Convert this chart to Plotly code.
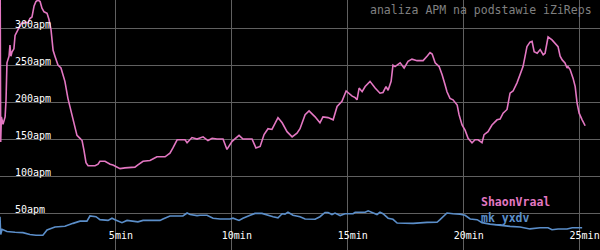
import plotly.graph_objects as go

# ---- data ----
series_names = ["ShaonVraal", "mk_yxdv"]
series_colors = ["#e377c2", "#5b8ec9"]

shaon_t = [0.00, 0.03, 0.06, 0.13, 0.22, 0.26, 0.30, 0.39, 0.43, 0.47, 0.52, 0.60, 0.65, 0.73, 0.82, 0.91,
           1.08, 1.21, 1.29, 1.38, 1.47, 1.55, 1.64, 1.73, 1.81, 1.90, 2.03, 2.11, 2.20, 2.29, 2.37,
           2.50, 2.63, 2.72, 2.80, 2.93, 3.02, 3.15, 3.24, 3.32, 3.45, 3.54, 3.62, 3.71, 3.80, 4.10,
           4.23, 4.31, 4.53, 4.75, 4.87, 5.18, 5.39, 5.61, 5.82, 5.95, 6.17, 6.47, 6.60, 6.77, 7.12,
           7.33, 7.46, 7.64, 7.98, 8.07, 8.28, 8.50, 8.76, 8.97, 9.15, 9.36, 9.62, 9.79, 10.01, 10.31,
           10.48, 10.87, 11.04, 11.22, 11.39, 11.56, 11.73, 11.86, 11.99, 12.17, 12.38, 12.60, 12.81,
           12.94, 13.16, 13.33, 13.59, 13.80, 13.93, 14.15, 14.37, 14.54, 14.75, 14.93, 15.19, 15.32,
           15.40, 15.49, 15.62, 15.75, 15.96, 16.18, 16.39, 16.52, 16.65, 16.74, 16.87, 16.95, 17.04,
           17.26, 17.43, 17.60, 17.77, 17.99, 18.25, 18.42, 18.55, 18.64, 18.77, 18.94, 19.07, 19.20,
           19.28, 19.41, 19.54, 19.72, 19.80, 19.93, 20.06, 20.19, 20.36, 20.49, 20.62, 20.79, 20.88,
           21.05, 21.22, 21.44, 21.57, 21.70, 21.87, 22.00, 22.13, 22.30, 22.43, 22.56, 22.65, 22.73,
           22.86, 22.95, 23.04, 23.17, 23.30, 23.43, 23.51, 23.60, 23.64, 23.81, 23.94, 24.07, 24.16,
           24.25, 24.37, 24.46, 24.50, 24.59, 24.72, 24.81, 24.89, 24.98, 25.11, 25.24]
shaon_apm = [420, 146, 180, 170, 180, 203, 253, 262, 277, 262, 268, 272, 290, 295, 300, 306,
             308, 307, 313, 315, 330, 336, 338, 336, 327, 322, 320, 312, 298, 270, 262,
             250, 246, 238, 228, 205, 194, 175, 167, 155, 151, 148, 135, 118, 114, 114,
             116, 120, 120, 116, 115, 110, 111, 111, 112, 115, 120, 121, 123, 126, 126,
             131, 138, 149, 149, 145, 152, 150, 153, 148, 151, 150, 150, 136, 147, 155,
             150, 150, 138, 140, 156, 164, 163, 171, 179, 172, 160, 153, 158,
             164, 183, 188, 180, 172, 180, 179, 176, 194, 201, 215, 208, 206,
             203, 219, 214, 221, 228, 219, 212, 213, 221, 216, 228, 250, 248,
             253, 246, 255, 258, 256, 256, 262, 267, 265, 253, 248, 237, 223,
             214, 205, 203, 196, 183, 169, 162, 151, 145, 149, 149, 145, 156,
             160, 169, 176, 177, 185, 190, 212, 215, 226, 237, 248, 262, 275,
             281, 282, 268, 266, 271, 264, 266, 284, 288, 284, 280, 275, 262,
             257, 253, 246, 248, 244, 232, 221, 199, 185, 176, 168]

mk_t = [0.00, 0.03, 0.09, 0.30, 0.65, 0.99, 1.29, 1.55, 1.85, 2.03, 2.37, 2.80, 3.15, 3.45, 3.75,
        3.88, 4.14, 4.31, 4.66, 4.83, 4.96, 5.26, 5.48, 5.74, 5.95, 6.17, 6.90, 7.03, 7.33, 7.89,
        8.07, 8.20, 8.50, 8.63, 8.93, 9.19, 9.49, 9.92, 10.05, 10.31, 10.48, 10.79, 11.00, 11.30,
        11.52, 11.78, 11.99, 12.17, 12.29, 12.42, 12.64, 12.94, 13.16, 13.37, 13.59, 13.80, 14.02,
        14.15, 14.32, 14.45, 14.67, 14.88, 15.23, 15.32, 15.75, 15.88, 16.05, 16.26, 16.39, 16.52,
        16.74, 16.95, 17.13, 17.82, 18.42, 18.85, 18.98, 19.11, 19.28, 19.54, 19.84, 20.06, 20.28,
        20.58, 20.79, 21.14, 21.57, 22.00, 22.43, 22.86, 23.30, 23.64, 23.81, 24.07, 24.46, 24.68,
        25.11]
mk_apm = [45, 21, 28, 25, 24, 23.5, 21, 20, 20, 27, 31, 32, 36, 39, 39,
          46, 45, 41, 40, 43, 41, 37, 40, 39, 38, 40, 40, 42, 46, 46,
          50, 48, 46.5, 47, 47, 43, 42, 42, 43, 40, 43, 47, 49.5, 49.5,
          47, 45, 43.5, 49, 48.5, 51, 47, 45, 42, 42, 41.5, 45, 50.8,
          50.8, 48, 50, 46.6, 49, 49, 51, 51, 53, 51, 48, 51, 49,
          43, 41.5, 36.5, 36, 37.3, 37.5, 41, 45, 50, 49, 48.5, 47, 42,
          41, 37, 35, 33, 32, 31, 28.5, 30, 30, 27.4, 28.4, 28.4, 30,
          30]

x_tickvals = [5, 10, 15, 20, 25]
x_ticktext = ["5min", "10min", "15min", "20min", "25min"]
y_tickvals = [50, 100, 150, 200, 250, 300]
y_ticktext = ["50apm", "100apm", "150apm", "200apm", "250apm", "300apm"]
title_text = "analiza APM na podstawie iZiReps"

MONO = "DejaVu Sans Mono"

fig = go.Figure()
for name, color, t, v in [(series_names[0], series_colors[0], shaon_t, shaon_apm),
                          (series_names[1], series_colors[1], mk_t, mk_apm)]:
    fig.add_trace(go.Scatter(x=t, y=v, mode="lines", name=name,
                             line=dict(color=color, width=1.6), showlegend=False))

# y tick labels drawn inside the plot, just above each grid line
for val, txt in zip(y_tickvals, y_ticktext):
    fig.add_annotation(x=0.022, xref="paper", xanchor="left",
                       y=val, yref="y", yanchor="middle", yshift=4,
                       text=txt, showarrow=False,
                       font=dict(family=MONO, size=10, color="#ffffff"))

# legend text (name labels)
for i, (name, color) in enumerate(zip(series_names, series_colors)):
    fig.add_annotation(x=0.798, xref="paper", xanchor="left",
                       y=0.194 - i * 0.066, yref="paper", yanchor="middle",
                       text="<b>" + name + "</b>", showarrow=False,
                       font=dict(family=MONO, size=11.5, color=color))

fig.add_annotation(x=0.99, xref="paper", xanchor="right", y=0.96, yref="paper",
                   yanchor="middle", text=title_text, showarrow=False,
                   font=dict(family=MONO, size=11.5, color="#808080"))

fig.update_layout(
    width=600, height=250,
    margin=dict(l=0, r=0, t=0, b=0),
    paper_bgcolor="#000000", plot_bgcolor="#000000",
    xaxis=dict(range=[0, 25.88], tickvals=x_tickvals, ticktext=x_ticktext,
               showgrid=True, gridcolor="#606060", gridwidth=1, zeroline=False,
               showline=False, ticks="", ticklabelposition="inside",
               ticklabelshift=5, ticklabelstandoff=6,
               tickfont=dict(family=MONO, size=10, color="#ffffff")),
    yaxis=dict(range=[0, 338], tickvals=y_tickvals, showticklabels=False,
               showgrid=True, gridcolor="#606060", gridwidth=1, zeroline=False,
               showline=False, ticks=""),
)

fig.write_html("out.html")
